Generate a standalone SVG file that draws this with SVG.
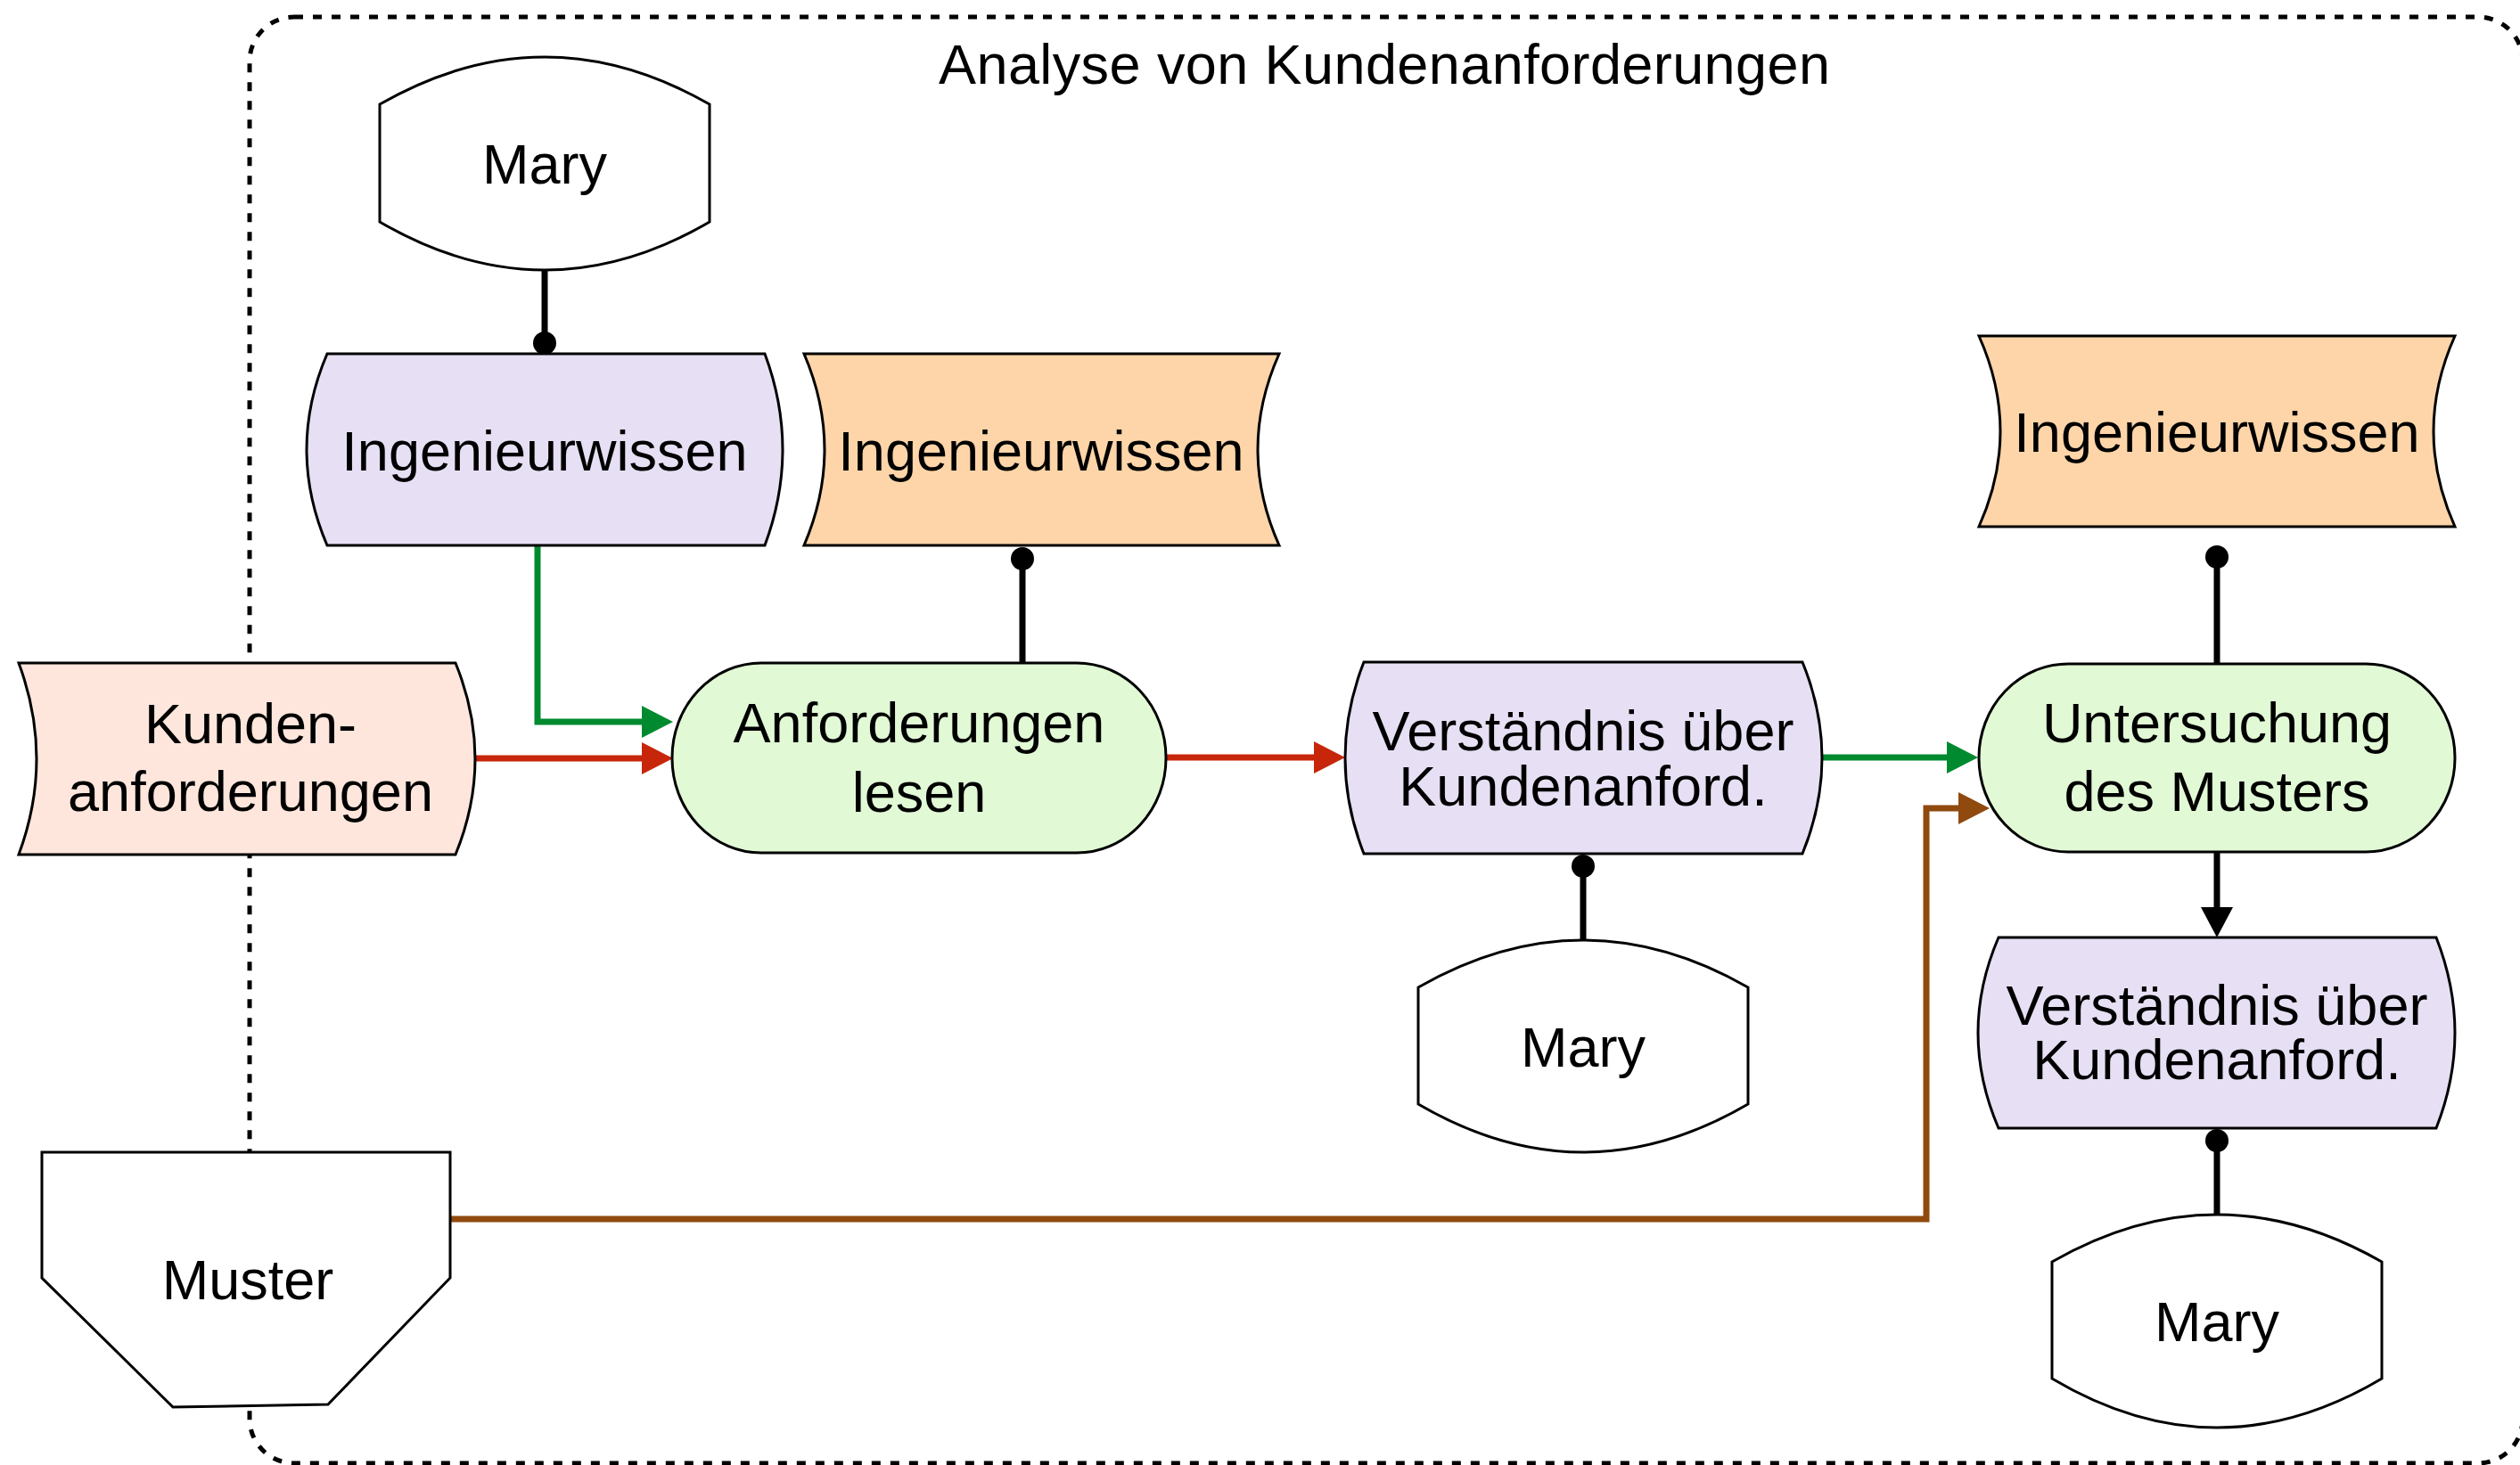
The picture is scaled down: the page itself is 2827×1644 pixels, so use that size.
<svg xmlns="http://www.w3.org/2000/svg" width="2827" height="1644" viewBox="0 0 2827 1644">
<style>
text{font-family:"Liberation Sans",Arial,Helvetica,sans-serif;font-size:63px;fill:#000;text-anchor:middle}
.n{stroke:#000;stroke-width:3}
.c{fill:none;stroke-width:7}
.blk{stroke:#000}
.red{stroke:#C8260A}
.grn{stroke:#008A30}
.brn{stroke:#914A0E}
.purple{fill:#E7E0F4}
.orange{fill:#FED5A8}
.salmon{fill:#FEE6DC}
.green{fill:#E1FAD5}
.white{fill:#FFFFFF}
</style>
<rect width="2827" height="1644" fill="#FFFFFF"/>
<g id="container">
<rect x="280" y="19" width="2550" height="1623" rx="50" ry="50" fill="none" stroke="#000" stroke-width="5" stroke-dasharray="10 11"/>
<text x="1553" y="94" font-size="62" textLength="1000" lengthAdjust="spacing">Analyse von Kundenanforderungen</text>
</g>
<g id="connectors">
<line class="c blk" x1="611" y1="303" x2="611" y2="385"/>
<circle cx="611" cy="385" r="13" fill="#000"/>
<line class="c blk" x1="1147" y1="627" x2="1147" y2="744"/>
<circle cx="1147" cy="627" r="13" fill="#000"/>
<line class="c blk" x1="1776" y1="972" x2="1776" y2="1055"/>
<circle cx="1776" cy="972" r="13" fill="#000"/>
<line class="c blk" x1="2487" y1="625" x2="2487" y2="745"/>
<circle cx="2487" cy="625" r="13" fill="#000"/>
<line class="c blk" x1="2487" y1="1280" x2="2487" y2="1363"/>
<circle cx="2487" cy="1280" r="13" fill="#000"/>
<line class="c blk" x1="2487" y1="956" x2="2487" y2="1020"/>
<polygon points="2469,1018 2505,1018 2487,1052" fill="#000"/>
<line class="c red" x1="533" y1="851" x2="722" y2="851"/>
<polygon points="720,833 755,851 720,869" fill="#C8260A"/>
<polyline class="c grn" points="603,612 603,810 722,810"/>
<polygon points="720,792 755,810 720,828" fill="#008A30"/>
<line class="c red" x1="1308" y1="850" x2="1476" y2="850"/>
<polygon points="1474,832 1509,850 1474,868" fill="#C8260A"/>
<line class="c grn" x1="2044" y1="850" x2="2186" y2="850"/>
<polygon points="2184,832 2219,850 2184,868" fill="#008A30"/>
<polyline class="c brn" points="505,1368 2161,1368 2161,907 2199,907"/>
<polygon points="2197,889 2232,907 2197,925" fill="#914A0E"/>
</g>
<g id="mary-top">
<path class="n white" d="M426,117 Q611,11 796,117 L796,249 Q611,357 426,249 Z"/>
<text x="611" y="206">Mary</text>
</g>
<g id="ingenieurwissen-purple">
<path class="n purple" d="M367,397 L858,397 Q898,504.5 858,612 L367,612 Q321,504.5 367,397 Z"/>
<text x="611" y="528">Ingenieurwissen</text>
</g>
<g id="ingenieurwissen-orange">
<path class="n orange" d="M902,397 L1435,397 Q1387,504.5 1435,612 L902,612 Q948,504.5 902,397 Z"/>
<text x="1168" y="528">Ingenieurwissen</text>
</g>
<g id="kundenanforderungen">
<path class="n salmon" d="M21,744 L511,744 Q555,851.5 511,959 L21,959 Q61,851.5 21,744 Z"/>
<text x="281" y="834">Kunden-</text>
<text x="281" y="910">anforderungen</text>
</g>
<g id="anforderungen-lesen">
<rect class="n green" x="754" y="744" width="554" height="213" rx="100" ry="106"/>
<text x="1031" y="833">Anforderungen</text>
<text x="1031" y="911">lesen</text>
</g>
<g id="verstaendnis-mid">
<path class="n purple" d="M1530,743 L2022,743 Q2066,850.5 2022,958 L1530,958 Q1488,850.5 1530,743 Z"/>
<text x="1776" y="842">Verständnis über</text>
<text x="1776" y="904">Kundenanford.</text>
</g>
<g id="mary-mid">
<path class="n white" d="M1591,1108 Q1776,1002 1961,1108 L1961,1239 Q1776,1347 1591,1239 Z"/>
<text x="1776" y="1197">Mary</text>
</g>
<g id="ingenieurwissen-orange-right">
<path class="n orange" d="M2220,377 L2754,377 Q2706,484 2754,591 L2220,591 Q2268,484 2220,377 Z"/>
<text x="2487" y="507">Ingenieurwissen</text>
</g>
<g id="untersuchung">
<rect class="n green" x="2220" y="745" width="534" height="211" rx="100" ry="105"/>
<text x="2487" y="833">Untersuchung</text>
<text x="2487" y="910">des Musters</text>
</g>
<g id="verstaendnis-right">
<path class="n purple" d="M2242,1052 L2733,1052 Q2775,1159 2733,1266 L2242,1266 Q2196,1159 2242,1052 Z"/>
<text x="2487" y="1150">Verständnis über</text>
<text x="2487" y="1211">Kundenanford.</text>
</g>
<g id="mary-right">
<path class="n white" d="M2302,1416 Q2487,1310 2672,1416 L2672,1547 Q2487,1657 2302,1547 Z"/>
<text x="2487" y="1505">Mary</text>
</g>
<g id="muster">
<polygon class="n white" points="47,1293 505,1293 505,1434 368,1576 194,1579 47,1434"/>
<text x="278" y="1458">Muster</text>
</g>
</svg>
